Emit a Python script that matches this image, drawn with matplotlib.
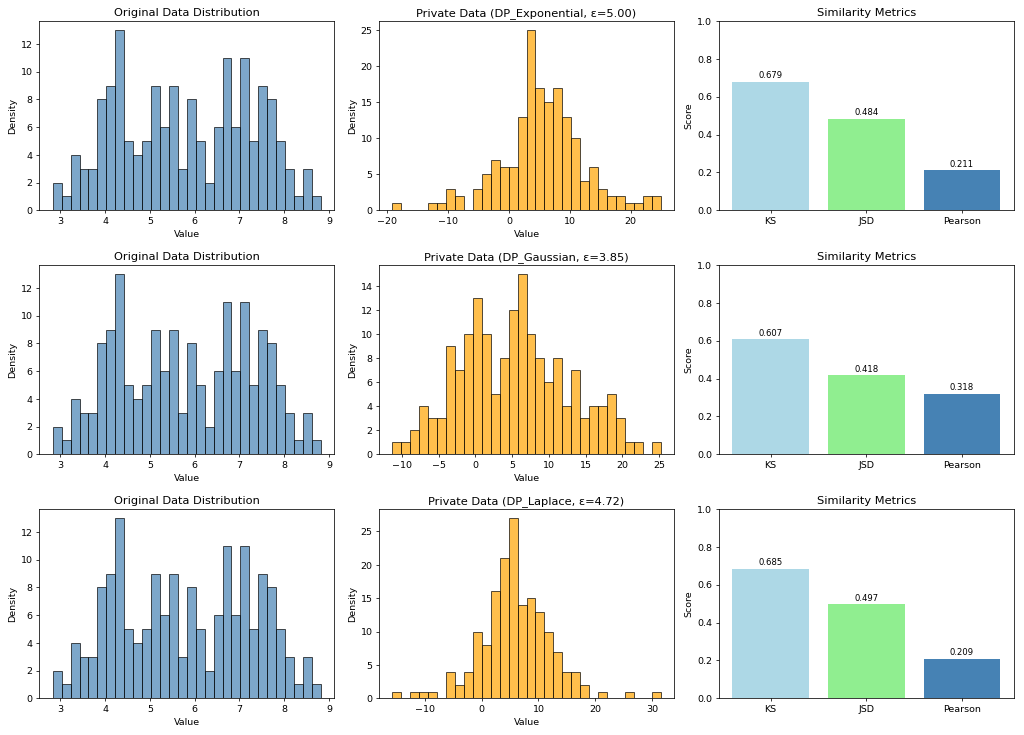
import numpy as np
import matplotlib.pyplot as plt

# Istogramma dei dati originali (30 bin)
orig_range = (2.83, 8.82)
orig_counts = [2, 1, 4, 3, 3, 8, 9, 13, 5, 4, 5, 9, 6, 9, 3,
               8, 5, 2, 6, 11, 6, 11, 5, 9, 8, 5, 3, 1, 3, 1]

# Istogrammi dei dati privati
meccanismi = ['DP_Exponential', 'DP_Gaussian', 'DP_Laplace']
epsilon = [5.00, 3.85, 4.72]
priv_ranges = [(-19.18, 24.9), (-11.26, 25.18), (-15.73, 31.52)]
priv_counts = [
    [1, 0, 0, 0, 1, 1, 3, 2, 0, 3, 5, 7, 6, 6, 13,
     25, 17, 15, 17, 13, 10, 4, 6, 3, 2, 2, 1, 1, 2, 2],
    [1, 1, 2, 4, 3, 3, 9, 7, 10, 13, 10, 5, 8, 12, 15,
     10, 8, 6, 8, 4, 7, 3, 4, 4, 5, 3, 1, 1, 0, 1],
    [1, 0, 1, 1, 1, 0, 4, 2, 4, 10, 8, 16, 21, 27, 14,
     15, 13, 10, 7, 4, 4, 2, 0, 1, 0, 0, 1, 0, 0, 1],
]

# Metriche di similarità
metriche = ['KS', 'JSD', 'Pearson']
punteggi = [
    [0.679, 0.484, 0.211],
    [0.607, 0.418, 0.318],
    [0.685, 0.497, 0.209],
]
colori_metriche = ['lightblue', 'lightgreen', 'steelblue']


def disegna_hist(ax, rng, counts, colore):
    edges = np.linspace(rng[0], rng[1], len(counts) + 1)
    centri = (edges[:-1] + edges[1:]) / 2
    ax.hist(centri, bins=edges, weights=counts, color=colore,
            edgecolor='black', alpha=0.7)


fig, axes = plt.subplots(3, 3, figsize=(15, 10.77))

for i in range(3):
    ax = axes[i, 0]
    disegna_hist(ax, orig_range, orig_counts, 'steelblue')
    ax.set_title('Original Data Distribution')
    ax.set_xlabel('Value')
    ax.set_ylabel('Density')

    ax = axes[i, 1]
    disegna_hist(ax, priv_ranges[i], priv_counts[i], 'orange')
    ax.set_title(f'Private Data ({meccanismi[i]}, ε={epsilon[i]:.2f})')
    ax.set_xlabel('Value')
    ax.set_ylabel('Density')

    ax = axes[i, 2]
    barre = ax.bar(metriche, punteggi[i], color=colori_metriche)
    for b, v in zip(barre, punteggi[i]):
        ax.text(b.get_x() + b.get_width() / 2, v + 0.01, f'{v:.3f}',
                ha='center', va='bottom', fontsize=9)
    ax.set_ylim(0, 1)
    ax.set_title('Similarity Metrics')
    ax.set_ylabel('Score')

plt.subplots_adjust(left=0.0384, right=0.990, top=0.971, bottom=0.050,
                    wspace=0.152, hspace=0.29)
plt.savefig('out.png', dpi=1024 / 15)
